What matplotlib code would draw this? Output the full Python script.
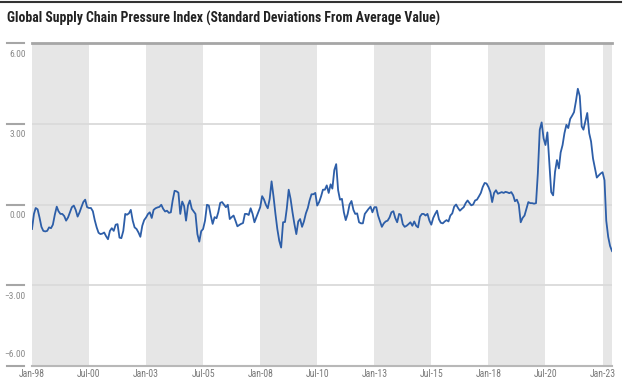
import numpy as np
import pandas as pd
import matplotlib
matplotlib.use("Agg")
import matplotlib.pyplot as plt
import matplotlib.transforms as mtransforms

# GSCPI, monthly from Jan-1998
gscpi = [
    -0.91, -0.35, -0.13, -0.18, -0.48, -0.83, -0.98, -1.00, -0.98, -0.85, -0.88, -0.75,  # 1998
    -0.38, -0.08, -0.25, -0.35, -0.35, -0.43, -0.60, -0.48, -0.29, -0.10, -0.04, -0.20,  # 1999
    -0.45, -0.29, -0.10, 0.09, 0.18, -0.10, -0.13, -0.13, -0.25, -0.58, -0.85, -1.05,    # 2000
    -1.10, -1.08, -1.04, -1.18, -1.29, -0.98, -0.88, -0.98, -0.75, -0.73, -1.23, -1.25,  # 2001
    -0.98, -0.35, -0.38, -0.33, -0.20, -0.60, -0.85, -0.91, -1.04, -1.20, -0.79, -0.58,  # 2002
    -0.48, -0.35, -0.29, -0.50, -0.20, -0.14, -0.11, -0.09, -0.01, -0.16, -0.26, -0.23,  # 2003
    -0.31, -0.29, 0.15, 0.51, 0.49, 0.44, -0.35, 0.11, -0.06, -0.60, -0.04, 0.15,        # 2004
    -0.16, -0.26, -0.35, -1.10, -1.38, -0.99, -0.91, -0.60, -0.01, -0.04, -0.41, -0.72,  # 2005
    -0.47, -0.51, -0.29, 0.06, 0.09, -0.01, -0.10, -0.01, -0.54, -0.47, -0.41, -0.60,    # 2006
    -0.81, -0.76, -0.72, -0.69, -0.35, -0.35, -0.39, -0.14, -0.35, -0.66, -0.47, -0.29,  # 2007
    -0.10, 0.31, 0.19, -0.01, -0.14, 0.21, 0.86, 0.30, -0.35, -0.91, -1.35, -1.60,       # 2008
    -0.66, -0.65, -0.16, 0.55, 0.21, -0.29, -0.72, -1.10, -0.63, -0.54, -0.83, -0.63,    # 2009
    -0.33, -0.13, 0.15, 0.38, 0.38, 0.43, -0.04, 0.09, 0.30, 0.55, 0.55, 0.71,           # 2010
    0.43, 0.75, 0.59, 1.28, 1.50, 0.53, 0.18, 0.21, -0.29, -0.58, -0.35, 0.00,           # 2011
    0.13, -0.20, -0.35, -0.33, -0.66, -0.70, -0.70, -0.35, -0.25, -0.16, -0.08, -0.29,   # 2012
    -0.10, -0.10, -0.41, -0.63, -0.83, -0.70, -0.63, -0.60, -0.48, -0.29, -0.25, -0.50,  # 2013
    -0.66, -0.35, -0.38, -0.73, -0.83, -0.79, -0.73, -0.66, -0.79, -0.63, -0.79, -0.85,  # 2014
    -0.45, -0.35, -0.35, -0.41, -0.35, -0.60, -0.75, -0.50, -0.35, -0.23, -0.55, -0.68,  # 2015
    -0.70, -0.63, -0.58, -0.63, -0.41, -0.33, -0.08, 0.00, -0.13, -0.23, -0.16, -0.10,   # 2016
    0.05, 0.15, 0.06, -0.03, 0.00, 0.15, 0.18, 0.30, 0.43, 0.65, 0.80, 0.78,             # 2017
    0.65, 0.46, 0.09, 0.43, 0.53, 0.40, 0.43, 0.46, 0.43, 0.47, 0.45, 0.42,              # 2018
    0.46, 0.34, 0.12, 0.18, 0.00, -0.66, -0.50, -0.41, -0.16, 0.09, 0.05, 0.05,          # 2019
    0.03, 0.05, 1.15, 2.78, 3.05, 2.46, 2.21, 2.68, 1.53, 0.46, 0.34, 1.21,              # 2020
    1.65, 1.34, 1.93, 2.21, 2.65, 2.96, 2.84, 3.18, 3.30, 3.43, 3.84, 4.30,              # 2021
    4.03, 2.90, 2.78, 3.09, 3.40, 2.65, 2.34, 1.71, 1.34, 1.00, 1.08, 1.15,              # 2022
    1.20, 0.90, -0.60, -1.20, -1.54, -1.73,                                              # 2023
]
dates = pd.date_range("1998-01-01", periods=len(gscpi), freq="MS")

tick_dates = pd.date_range("1998-01-01", "2023-01-01", freq="30MS")
tick_labels = [d.strftime("%b-%y") for d in tick_dates]
y_ticks = [6, 3, 0, -3, -6]
y_labels = ["6.00", "3.00", "0.00", "\u22123.00", "\u22126.00"]

title = "Global Supply Chain Pressure Index (Standard Deviations From Average Value)"

narrow = ["Roboto Condensed", "DejaVu Sans"]

fig = plt.figure(figsize=(6.24, 3.79), dpi=100)
ax = fig.add_axes([32 / 624, 1 - 366 / 379, 580 / 624, 323 / 379])

# alternating shaded bands, every other 30-month block
edges = list(tick_dates) + [dates[-1]]
for i in range(0, len(edges) - 1, 2):
    ax.axvspan(edges[i], edges[i + 1], color="#e6e6e6", lw=0, zorder=0)

for v in [3, 0, -3]:
    ax.axhline(v, color="#dadada", lw=1.3, zorder=1)

ax.plot(dates, gscpi, color="#2d5ea8", lw=1.3, zorder=3)

ax.set_xlim(dates[0], dates[-1])
ax.set_ylim(-6, 6)
ax.set_yticks([])
ax.set_xticks(tick_dates)
ax.set_xticklabels(tick_labels, family=narrow, fontsize=7, color="#7a7a7a")
ax.tick_params(axis="x", length=0, pad=2)

for s in ["left", "right"]:
    ax.spines[s].set_visible(False)
ax.spines["top"].set_color("#a6a6a6")
ax.spines["top"].set_linewidth(2)
ax.spines["bottom"].set_color("#b8b8b8")
ax.spines["bottom"].set_linewidth(1.5)

# y labels sit under short lines out to the left
trans = mtransforms.blended_transform_factory(ax.transAxes, ax.transData)
for v, lab in zip(y_ticks, y_labels):
    ax.plot([-0.043, -0.013], [v, v], transform=trans, color="#a6a6a6",
            lw=1.5, clip_on=False)
    ax.text(-0.011, v + (0.25 if v == -6 else -0.25), lab, transform=trans,
            ha="right", va="bottom" if v == -6 else "top",
            family=narrow, fontsize=6.8, color="#8a8a8a")

# title and top rule
fig.add_artist(plt.Line2D([0, 0.995], [0.994, 0.994], color="#333333", lw=1.5))
fig.text(7 / 624, 1 - 18 / 379, title, family=narrow, fontweight="bold",
         fontsize=9.9, color="#222222", va="center", ha="left")

fig.savefig("out.png", dpi=100)
